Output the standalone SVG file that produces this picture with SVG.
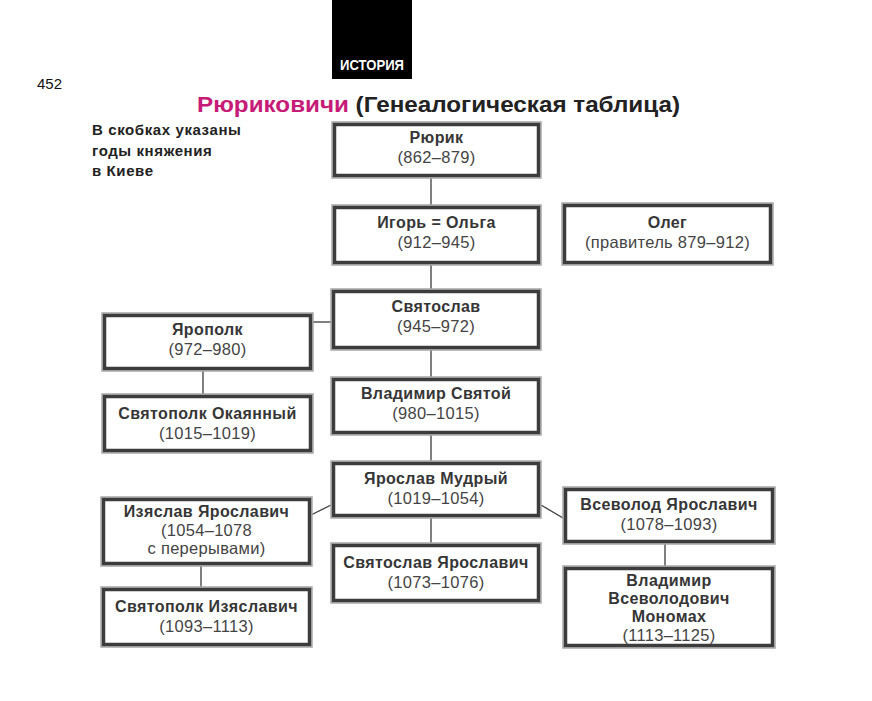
<svg xmlns="http://www.w3.org/2000/svg" width="872" height="701" viewBox="0 0 872 701">
<style>
.o{fill:#fff;stroke:#a8a8a8;stroke-width:1.5}
.i{fill:none;stroke:#3c3c3c;stroke-width:3.5}
.n{font-family:"Liberation Sans",Arial,sans-serif;font-weight:bold;font-size:16px;letter-spacing:0.4px;fill:#363636;text-anchor:middle}
.y{font-family:"Liberation Sans",Arial,sans-serif;font-size:16.5px;letter-spacing:0.3px;fill:#444;text-anchor:middle}
.c{stroke:#3c3c3c;stroke-width:1.3;fill:none}
</style>
<rect width="872" height="701" fill="#fff"/>
<g id="header">
<rect x="332" y="0" width="80" height="79" fill="#000"/>
<text x="372" y="69.5" font-family="'Liberation Sans',Arial,sans-serif" font-weight="bold" font-size="15" fill="#fff" text-anchor="middle" textLength="64" lengthAdjust="spacingAndGlyphs">ИСТОРИЯ</text>
<text x="37" y="89" font-family="'Liberation Sans',Arial,sans-serif" font-size="15" fill="#111">452</text>
<text x="197" y="112" font-family="'Liberation Sans',Arial,sans-serif" font-weight="bold" font-size="22" textLength="483" lengthAdjust="spacingAndGlyphs"><tspan fill="#c71b78">Рюриковичи</tspan><tspan fill="#222"> (Генеалогическая таблица)</tspan></text>
<g font-family="'Liberation Sans',Arial,sans-serif" font-weight="bold" font-size="15" letter-spacing="0.6" fill="#222">
<text x="92" y="135">В скобках указаны</text>
<text x="92" y="156">годы княжения</text>
<text x="92" y="176">в Киеве</text>
</g>
</g>
<g id="connectors">
<line class="c" x1="431" y1="178" x2="431" y2="205"/>
<line class="c" x1="431" y1="265" x2="431" y2="289"/>
<line class="c" x1="313" y1="322" x2="331" y2="322"/>
<line class="c" x1="431" y1="350" x2="431" y2="377"/>
<line class="c" x1="203" y1="371" x2="203" y2="394"/>
<line class="c" x1="431" y1="435" x2="431" y2="461"/>
<line class="c" x1="331" y1="505" x2="311" y2="515"/>
<line class="c" x1="541" y1="505" x2="563" y2="518"/>
<line class="c" x1="431" y1="518" x2="431" y2="543"/>
<line class="c" x1="201" y1="566" x2="201" y2="587"/>
<line class="c" x1="665" y1="544" x2="665" y2="566"/>
</g>
<g id="rurik">
<rect class="o" x="332" y="122" width="209" height="56"/><rect class="i" x="334.5" y="124.5" width="204" height="51"/>
<text class="n" x="436.5" y="143">Рюрик</text><text class="y" x="436.5" y="163">(862–879)</text>
</g>
<g id="igor">
<rect class="o" x="332" y="205" width="209" height="60"/><rect class="i" x="334.5" y="207.5" width="204" height="55"/>
<text class="n" x="436.5" y="228">Игорь = Ольга</text><text class="y" x="436.5" y="248">(912–945)</text>
</g>
<g id="oleg">
<rect class="o" x="562" y="203" width="211" height="62"/><rect class="i" x="564.5" y="205.5" width="206" height="57"/>
<text class="n" x="667.5" y="228">Олег</text><text class="y" x="667.5" y="248">(правитель 879–912)</text>
</g>
<g id="svyatoslav">
<rect class="o" x="331" y="289" width="210" height="61"/><rect class="i" x="333.5" y="291.5" width="205" height="56"/>
<text class="n" x="436" y="312">Святослав</text><text class="y" x="436" y="332">(945–972)</text>
</g>
<g id="yaropolk">
<rect class="o" x="102" y="313" width="211" height="58"/><rect class="i" x="104.5" y="315.5" width="206" height="53"/>
<text class="n" x="207.5" y="335">Ярополк</text><text class="y" x="207.5" y="355">(972–980)</text>
</g>
<g id="svyatopolk-okayanny">
<rect class="o" x="102" y="394" width="211" height="59"/><rect class="i" x="104.5" y="396.5" width="206" height="54"/>
<text class="n" x="207.5" y="419">Святополк Окаянный</text><text class="y" x="207.5" y="439">(1015–1019)</text>
</g>
<g id="vladimir">
<rect class="o" x="331" y="377" width="210" height="58"/><rect class="i" x="333.5" y="379.5" width="205" height="53"/>
<text class="n" x="436" y="399">Владимир Святой</text><text class="y" x="436" y="419">(980–1015)</text>
</g>
<g id="yaroslav">
<rect class="o" x="331" y="461" width="210" height="57"/><rect class="i" x="333.5" y="463.5" width="205" height="52"/>
<text class="n" x="436" y="484">Ярослав Мудрый</text><text class="y" x="436" y="504">(1019–1054)</text>
</g>
<g id="izyaslav">
<rect class="o" x="101" y="497" width="211" height="69"/><rect class="i" x="103.5" y="499.5" width="206" height="64"/>
<text class="n" x="206.5" y="517">Изяслав Ярославич</text><text class="y" x="206.5" y="536">(1054–1078</text><text class="y" x="206.5" y="554">с перерывами)</text>
</g>
<g id="svyatoslav-yaroslavich">
<rect class="o" x="331" y="543" width="210" height="60"/><rect class="i" x="333.5" y="545.5" width="205" height="55"/>
<text class="n" x="436" y="568">Святослав Ярославич</text><text class="y" x="436" y="588">(1073–1076)</text>
</g>
<g id="vsevolod">
<rect class="o" x="563" y="487" width="212" height="57"/><rect class="i" x="565.5" y="489.5" width="207" height="52"/>
<text class="n" x="669" y="510">Всеволод Ярославич</text><text class="y" x="669" y="530">(1078–1093)</text>
</g>
<g id="monomakh">
<rect class="o" x="563" y="566" width="212" height="82"/><rect class="i" x="565.5" y="568.5" width="207" height="77"/>
<text class="n" x="669" y="586">Владимир</text><text class="n" x="669" y="604">Всеволодович</text><text class="n" x="669" y="622">Мономах</text><text class="y" x="669" y="641">(1113–1125)</text>
</g>
<g id="svyatopolk-izyaslavich">
<rect class="o" x="101" y="587" width="211" height="60"/><rect class="i" x="103.5" y="589.5" width="206" height="55"/>
<text class="n" x="206.5" y="612">Святополк Изяславич</text><text class="y" x="206.5" y="632">(1093–1113)</text>
</g>
</svg>
